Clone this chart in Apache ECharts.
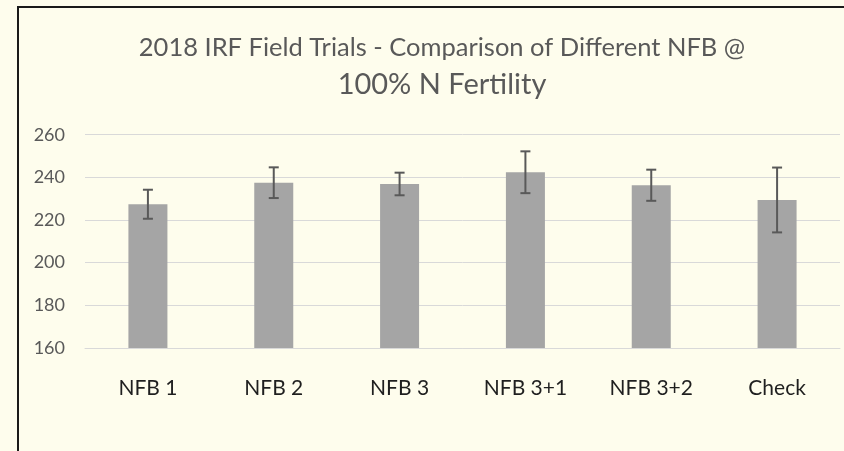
<!DOCTYPE html>
<html>
<head>
<meta charset="utf-8">
<script src="https://cdn.jsdelivr.net/npm/echarts@6/dist/echarts.min.js"></script>
<style>
html,body{margin:0;padding:0;background:#FEFDED;overflow:hidden;}
#wrap{position:relative;width:844px;height:451px;overflow:hidden;}
#chart{width:844px;height:451px;}
#frame{position:absolute;left:17px;top:6px;width:1000px;height:1000px;border:2px solid #1a1a1a;pointer-events:none;}
</style>
</head>
<body>
<div id="wrap"><div id="chart"></div><div id="frame"></div></div>
<script>
var categories = ['NFB 1', 'NFB 2', 'NFB 3', 'NFB 3+1', 'NFB 3+2', 'Check'];
var means = [227.4, 237.5, 236.9, 242.4, 236.3, 229.4];
var errors = [6.8, 7.2, 5.3, 9.8, 7.3, 15.2];
var yTicks = [160, 180, 200, 220, 240, 260];
var titleLine1 = '2018 IRF Field Trials - Comparison of Different NFB @';
var titleLine2 = '100% N Fertility';

var errData = means.map(function (m, i) { return [i, m - errors[i], m + errors[i]]; });

var chart = echarts.init(document.getElementById('chart'));
var FONT = 'Lato';
chart.setOption({
  backgroundColor: '#FEFDED',
  animation: false,
  title: [
    { text: titleLine1, left: 442, top: 35, textAlign: 'center', padding: 0,
      textStyle: { fontFamily: FONT, fontSize: 25.5, fontWeight: 'normal', color: '#595959' } },
    { text: titleLine2, left: 442, top: 70.5, textAlign: 'center', padding: 0,
      textStyle: { fontFamily: FONT, fontSize: 29, fontWeight: 'normal', color: '#595959' } }
  ],
  grid: { left: 85, right: 4, top: 134.7, bottom: 103, containLabel: false },
  xAxis: {
    type: 'category', data: categories,
    axisLine: { lineStyle: { color: '#D9D9D9', width: 1 } },
    axisTick: { show: false },
    axisLabel: { fontFamily: FONT, fontSize: 21, color: '#1f1f1f', margin: 30 }
  },
  yAxis: {
    type: 'value', min: yTicks[0], max: yTicks[yTicks.length - 1], interval: 20,
    axisLine: { show: false }, axisTick: { show: false },
    splitLine: { lineStyle: { color: '#D9D9D9', width: 1 } },
    axisLabel: { fontFamily: FONT, fontSize: 18, color: '#595959', margin: 20 }
  },
  series: [
    { type: 'bar', data: means, barWidth: 39, itemStyle: { color: '#A5A5A5' } },
    {
      type: 'custom', data: errData, z: 10,
      renderItem: function (params, api) {
        var x = api.value(0);
        var lo = api.coord([x, api.value(1)]);
        var hi = api.coord([x, api.value(2)]);
        var hw = 5;
        var st = { stroke: '#595959', lineWidth: 2 };
        return {
          type: 'group',
          children: [
            { type: 'line', shape: { x1: hi[0], y1: hi[1], x2: lo[0], y2: lo[1] }, style: st },
            { type: 'line', shape: { x1: hi[0] - hw, y1: hi[1], x2: hi[0] + hw, y2: hi[1] }, style: st },
            { type: 'line', shape: { x1: lo[0] - hw, y1: lo[1], x2: lo[0] + hw, y2: lo[1] }, style: st }
          ]
        };
      }
    }
  ]
});
</script>
</body>
</html>
